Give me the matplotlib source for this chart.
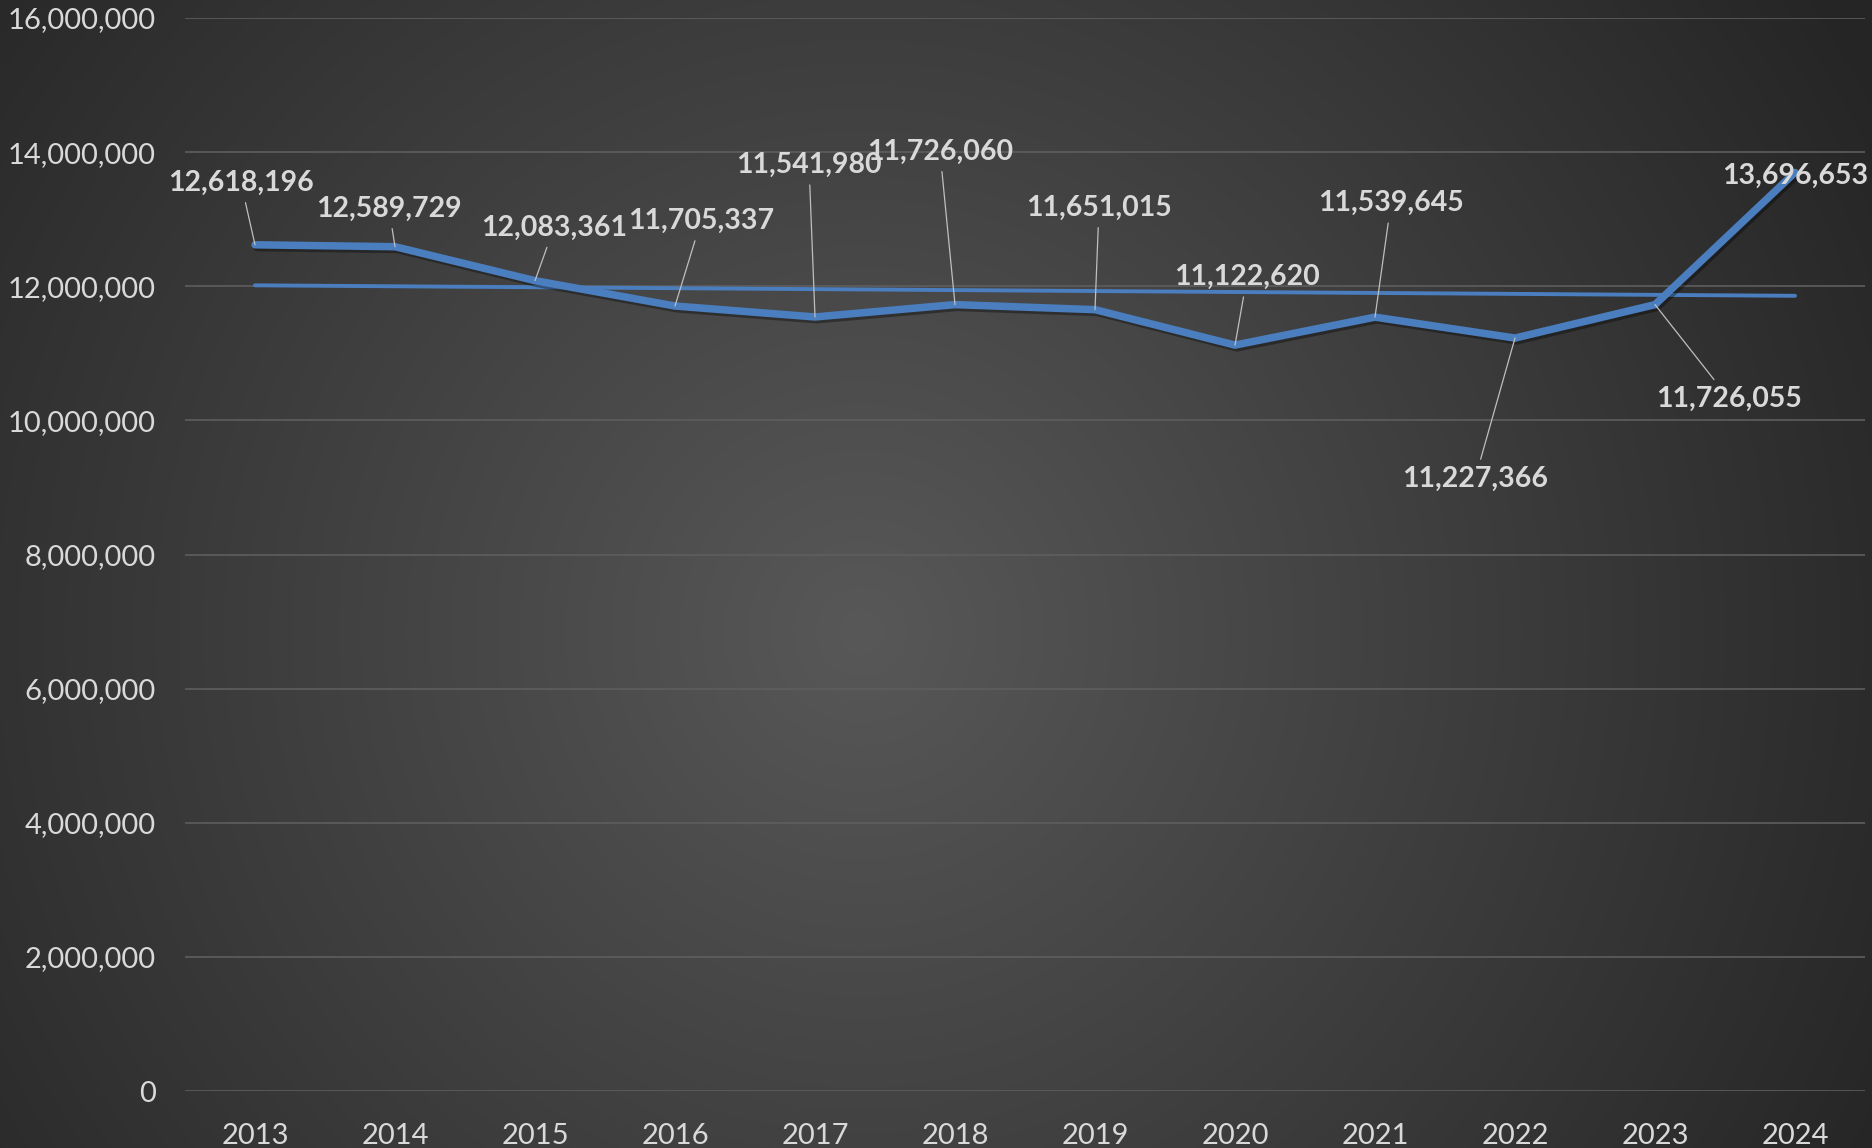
import numpy as np
import matplotlib
matplotlib.use("Agg")
import matplotlib.pyplot as plt
import matplotlib.patheffects as pe
from matplotlib.ticker import FuncFormatter, MultipleLocator

# --- data -----------------------------------------------------------------
years = ["2013", "2014", "2015", "2016", "2017", "2018",
         "2019", "2020", "2021", "2022", "2023", "2024"]
values = [12618196, 12589729, 12083361, 11705337, 11541980, 11726060,
          11651015, 11122620, 11539645, 11227366, 11726055, 13696653]

# label offsets from each point, in pixels (x right, y up)
label_offsets = [(-14, 62), (-6, 38), (19, 53), (26, 85), (-6, 152), (-15, 153),
                 (4, 102), (12, 68), (16, 114), (-40, -141), (74, -94), (0, -3)]
show_leader = [True] * 11 + [False]

plt.rcParams['font.family'] = ['Lato', 'DejaVu Sans']

W, H, DPI = 1872, 1148, 100
fig = plt.figure(figsize=(W / DPI, H / DPI), dpi=DPI)

# radial gradient background
bg = fig.add_axes([0, 0, 1, 1], zorder=-10)
yy, xx = np.mgrid[0:H, 0:W]
cx, cy = 0.46 * W, 0.55 * H
r = np.sqrt(((xx - cx) / (0.62 * W)) ** 2 + ((yy - cy) / (0.62 * W)) ** 2)
r = np.clip(r, 0, 1)
inner, outer = 0x58 / 255, 0x25 / 255
g = inner + (outer - inner) * r
img = np.dstack([g, g, g])
bg.imshow(img, aspect='auto', extent=[0, 1, 0, 1], origin='upper')
bg.axis('off')

ax = fig.add_axes([185 / W, 1 - 1091 / H, (1865 - 185) / W, (1091 - 18) / H])
ax.patch.set_alpha(0)

x = np.arange(len(years))
vals = np.array(values, dtype=float)

# linear trendline
coef = np.polyfit(x, vals, 1)
trend = np.polyval(coef, x)

line_color = '#4A7EBF'
ax.plot(x, trend, color=line_color, lw=2.8, solid_capstyle='round', zorder=3)
ax.plot(x, vals, color=line_color, lw=5.4, solid_capstyle='round',
        solid_joinstyle='miter', zorder=4,
        path_effects=[pe.SimpleLineShadow(offset=(1.5, -2), shadow_color='black', alpha=0.35),
                      pe.Normal()])

for i, v in enumerate(values):
    dx, dy = label_offsets[i]
    arrow = dict(arrowstyle='-', color='#BFBFBF', lw=0.9, shrinkA=3, shrinkB=0) if show_leader[i] else None
    ax.annotate(f"{v:,}", xy=(i, v), xytext=(dx, dy), textcoords='offset pixels',
                ha='center', va='center', fontsize=20.5, fontweight='bold',
                color='#D9D9D9', arrowprops=arrow, zorder=6)

ax.set_xlim(-0.5, len(years) - 0.5)
ax.set_ylim(0, 16000000)
ax.yaxis.set_major_locator(MultipleLocator(2000000))
ax.yaxis.set_major_formatter(FuncFormatter(lambda v, p: f"{int(v):,}"))
ax.set_xticks(x)
ax.set_xticklabels(years)

ax.grid(axis='y', color='#5E5E5E', lw=1.2, zorder=1)
ax.set_axisbelow(True)
for s in ax.spines.values():
    s.set_visible(False)
ax.tick_params(axis='y', length=0, pad=21, labelsize=21, labelcolor='#D9D9D9')
ax.tick_params(axis='x', length=0, pad=23, labelsize=21, labelcolor='#D9D9D9')

fig.savefig("out.png", dpi=DPI)
